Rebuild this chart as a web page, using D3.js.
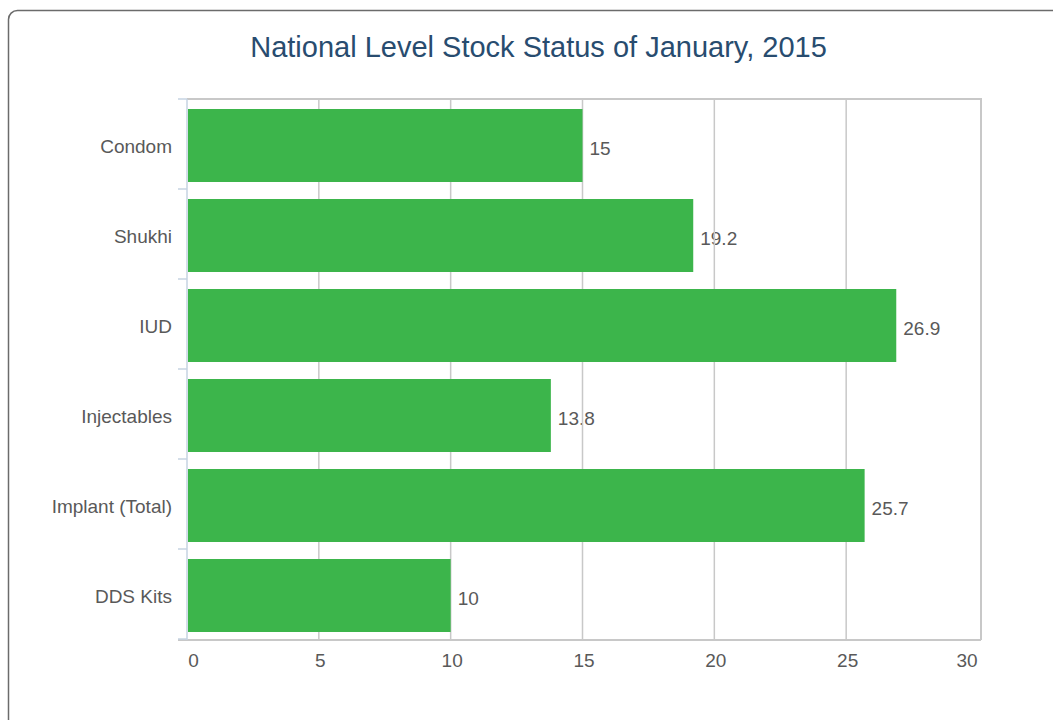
<!DOCTYPE html>
<html>
<head>
<meta charset="utf-8">
<script src="https://cdn.jsdelivr.net/npm/d3@7"></script>
<style>
  body { margin: 0; background: #fff; }
  text { font-family: "Liberation Sans", Arial, sans-serif; }
</style>
</head>
<body>
<svg width="1053" height="720"></svg>
<script>
const categories = ["Condom", "Shukhi", "IUD", "Injectables", "Implant (Total)", "DDS Kits"];
const values = [15, 19.2, 26.9, 13.8, 25.7, 10];
const xTicks = [0, 5, 10, 15, 20, 25, 30];

const data = categories.map((c, i) => ({ name: c, value: values[i] }));

const svg = d3.select("svg");

// outer frame, runs off the page on the right and bottom
svg.append("rect")
  .attr("x", 8.5).attr("y", 10.5)
  .attr("width", 1100).attr("height", 800)
  .attr("rx", 9)
  .attr("fill", "none")
  .attr("stroke", "#6b6b6b")
  .attr("stroke-width", 1.5);

svg.append("text")
  .attr("x", 538.5).attr("y", 57)
  .attr("text-anchor", "middle")
  .attr("font-size", 29)
  .attr("fill", "#284c6f")
  .text("National Level Stock Status of January, 2015");

const plotLeft = 187, plotRight = 978, plotTop = 99, plotBottom = 639;

const x = d3.scaleLinear().domain([0, 30]).range([plotLeft, plotRight]);
const y = d3.scaleBand().domain(categories).range([plotTop, plotBottom]);

// value labels (grid is drawn over them)
svg.selectAll(".val")
  .data(data)
  .enter().append("text")
  .attr("class", "val")
  .attr("x", d => x(d.value) + 7)
  .attr("y", d => y(d.name) + 10 + 36.5 + 9.5)
  .attr("font-size", 19)
  .attr("fill", "#595959")
  .text(d => d.value);

// gridlines
svg.selectAll(".grid")
  .data(xTicks.slice(1, -1))
  .enter().append("line")
  .attr("x1", d => x(d)).attr("x2", d => x(d))
  .attr("y1", plotTop).attr("y2", plotBottom)
  .attr("stroke", "#c8c8c8")
  .attr("stroke-width", 1.5);

// plot frame top and right
svg.append("path")
  .attr("d", `M${plotLeft},${plotTop}H981V${plotBottom + 1}`)
  .attr("fill", "none")
  .attr("stroke", "#c8c8c8")
  .attr("stroke-width", 2);

// bars
svg.selectAll(".bar")
  .data(data)
  .enter().append("rect")
  .attr("class", "bar")
  .attr("x", x(0) + 1)
  .attr("y", d => y(d.name) + 10)
  .attr("width", d => x(d.value) - x(0) - 1)
  .attr("height", 73)
  .attr("fill", "#3cb54b");

// bottom axis line
svg.append("line")
  .attr("x1", 178).attr("x2", 981)
  .attr("y1", plotBottom + 1).attr("y2", plotBottom + 1)
  .attr("stroke", "#c8c8c8")
  .attr("stroke-width", 2);

// left axis line with ticks at category boundaries
svg.append("line")
  .attr("x1", plotLeft).attr("x2", plotLeft)
  .attr("y1", plotTop).attr("y2", plotBottom + 1)
  .attr("stroke", "#c6d3e2")
  .attr("stroke-width", 1.5);

const bounds = categories.map(c => y(c)).concat([plotBottom]);
svg.selectAll(".ytick")
  .data(bounds)
  .enter().append("line")
  .attr("x1", 178).attr("x2", plotLeft)
  .attr("y1", d => d).attr("y2", d => d)
  .attr("stroke", "#c6d3e2")
  .attr("stroke-width", 1.5);

// category labels
svg.selectAll(".cat")
  .data(categories)
  .enter().append("text")
  .attr("x", 172)
  .attr("y", c => y(c) + y.bandwidth() / 2 + 9)
  .attr("text-anchor", "end")
  .attr("font-size", 19)
  .attr("fill", "#595959")
  .text(c => c);

// x tick labels
svg.selectAll(".xlab")
  .data(xTicks)
  .enter().append("text")
  .attr("x", (d, i) => x(d) + (i === 0 ? 6.5 : i === xTicks.length - 1 ? -11 : 1.5))
  .attr("y", 667)
  .attr("text-anchor", "middle")
  .attr("font-size", 19)
  .attr("fill", "#595959")
  .text(d => d);
</script>
</body>
</html>
